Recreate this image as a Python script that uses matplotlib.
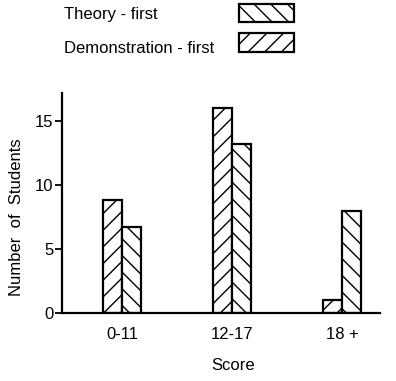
import matplotlib
matplotlib.use("Agg")
import matplotlib.pyplot as plt
from matplotlib.patches import Rectangle

plt.rcParams['font.family'] = ['Liberation Sans Narrow', 'Liberation Sans', 'DejaVu Sans']
plt.rcParams['hatch.linewidth'] = 1.0

# data
categories = ["0-11", "12-17", "18 +"]
demonstration_first = [8.8, 16, 1]
theory_first = [6.7, 13.2, 8]
yticks = [0, 5, 10, 15]

fig = plt.figure(figsize=(3.96, 3.81), dpi=100)
ax = fig.add_axes([0.1566, 0.1785, 0.803, 0.5774])

x = list(range(len(categories)))
w = 0.17
ax.bar([i - w / 2 for i in x], demonstration_first, width=w, facecolor='white',
       edgecolor='black', linewidth=1.6, hatch='//')
ax.bar([i + w / 2 for i in x], theory_first, width=w, facecolor='white',
       edgecolor='black', linewidth=1.6, hatch='\\\\')

ax.set_xlim(-0.545, 2.345)
ax.set_ylim(0, 17.2)
ax.set_xticks(x)
ax.set_xticklabels(categories, fontsize=12)
ax.set_yticks(yticks)
ax.set_yticklabels([str(t) for t in yticks], fontsize=12)
ax.tick_params(axis='x', length=0, pad=10)
ax.tick_params(axis='y', length=5, width=1.3, pad=1)

for s in ['top', 'right']:
    ax.spines[s].set_visible(False)
for s in ['left', 'bottom']:
    ax.spines[s].set_linewidth(1.6)

ax.set_xlabel("Score", fontsize=12)
ax.xaxis.set_label_coords(0.538, -0.205)
ax.set_ylabel("Number  of  Students", fontsize=12)
ax.yaxis.set_label_coords(-0.12, 0.436)

# legend drawn at the top (text left, swatch right)
fig.text(0.162, 0.961, "Theory - first", fontsize=12, va='center', ha='left')
fig.text(0.162, 0.874, "Demonstration - first", fontsize=12, va='center', ha='left')
fig.add_artist(Rectangle((0.6035, 0.942), 0.139, 0.048, transform=fig.transFigure,
                         facecolor='white', edgecolor='black', linewidth=1.6, hatch='\\\\'))
fig.add_artist(Rectangle((0.6035, 0.8635), 0.139, 0.05, transform=fig.transFigure,
                         facecolor='white', edgecolor='black', linewidth=1.6, hatch='//'))

fig.savefig("out.png", dpi=100)
